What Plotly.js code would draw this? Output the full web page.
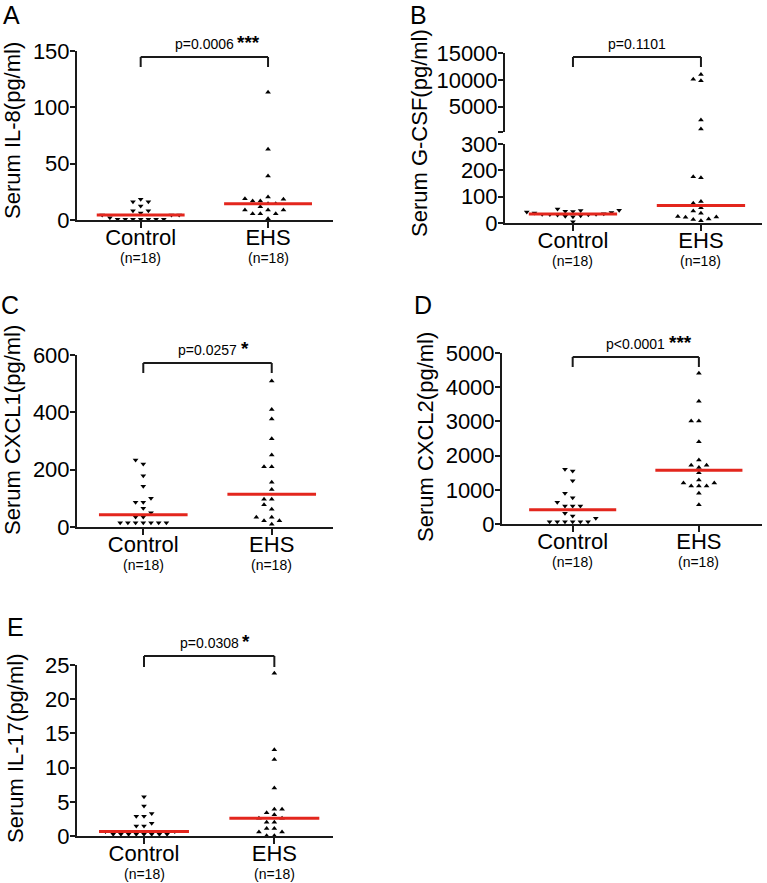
<!DOCTYPE html>
<html>
<head>
<meta charset="utf-8">
<script src="https://cdn.plot.ly/plotly-3.0.1.min.js"></script>
<style>
  html, body { margin: 0; padding: 0; background: #ffffff; }
  #chart { width: 767px; height: 883px; }
</style>
</head>
<body>
<div id="chart"></div>
<script>
// ---- data (pg/ml) ----
const groups = ['Control', 'EHS'];
const groupN = ['(n=18)', '(n=18)'];

const il8Control = [18.4, 16.3, 16.3, 12.4, 8.3, 8.3, 6.2, 4.5, 4.5, 4.5, 0.6, 0.6, 0.6, 0.6, 0.6, 0.6, 0.6, 2.0];
const il8EHS     = [113.3, 62.7, 39, 20.4, 18.4, 18.9, 16.9, 16.9, 14.5, 14.5, 11.8, 8.9, 8.9, 8.9, 5.6, 5.6, 5.6, 1.2];

const gcsfControl = [5, 24, 26, 28, 30, 31, 32, 33, 33, 35, 38, 40, 42, 44, 45, 47, 48, 53];
const gcsfEHS     = [11000, 9850, 10100, 2530, 860, 176, 172, 82, 75, 58, 46, 37, 25, 23, 22, 15, 13, 9];

const cxcl1Control = [234, 220, 179, 142, 100, 86, 86, 65, 50, 35, 35, 15, 15, 15, 15, 15, 15, 15];
const cxcl1EHS     = [509, 410, 377, 308, 251, 210, 210, 156, 131, 97, 97, 78, 62, 34, 34, 22, 22, 10];

const cxcl2Control = [1600, 1550, 1267, 897, 770, 634, 526, 526, 526, 312, 234, 166, 68, 68, 68, 68, 68, 68];
const cxcl2EHS     = [4406, 3587, 3012, 3012, 2407, 1871, 1716, 1716, 1650, 1500, 1287, 1199, 1199, 1111, 1111, 1111, 897, 565];

const il17Control = [5.75, 4.4, 3.3, 2.9, 2.9, 1.85, 1.46, 1.46, 0.65, 0.65, 0.25, 0.25, 0.25, 0.25, 0.25, 0.25, 0.25, 0.25];
const il17EHS     = [23.8, 12.6, 11.2, 7.0, 3.9, 3.9, 3.4, 3.1, 2.6, 2.6, 2.0, 2.0, 1.1, 1.1, 0.6, 0.6, 0.05, 0.05];

// tick labels
const il8Ticks    = [0, 50, 100, 150];
const gcsfLoTicks = [0, 100, 200, 300];
const gcsfHiTicks = [300, 5000, 10000, 15000];
const gcsfHiText  = ['', '5000', '10000', '15000'];
const cxcl1Ticks  = [0, 200, 400, 600];
const cxcl2Ticks  = [0, 1000, 2000, 3000, 4000, 5000];
const il17Ticks   = [0, 5, 10, 15, 20, 25];

// p values
const pTexts = ['p=0.0006', 'p=0.1101', 'p=0.0257', 'p<0.0001', 'p=0.0308'];
const pStars = ['***', '', '*', '***', '*'];

// ---- layout geometry (pixels in a 767 x 883 page) ----
const W = 767, H = 883;
const FONT = 'Arial, "Liberation Sans", Helvetica, sans-serif';
const INK = '#1a1a1a';
const RED = '#e3261d';

const panels = [
  { letter: 'A', title: 'Serum IL-8(pg/ml)', data: [il8Control, il8EHS],
    left: 77, right: 333, xrange: [0.5, 2.51],
    segs: [{ top: 51, bottom: 220, range: [0, 150], tickvals: il8Ticks }],
    bracket: [57, 67], letterAt: [11, 15], titleAt: [12, 131] },
  { letter: 'B', title: 'Serum G-CSF(pg/ml)', data: [gcsfControl, gcsfEHS],
    left: 505, right: 762, xrange: [0.469, 2.477],
    segs: [{ top: 144, bottom: 223, range: [0, 300], tickvals: gcsfLoTicks },
           { top: 53, bottom: 132, range: [300, 15000], tickvals: gcsfHiTicks, ticktext: gcsfHiText }],
    bracket: [57, 67], letterAt: [418, 15], titleAt: [419, 133] },
  { letter: 'C', title: 'Serum CXCL1(pg/ml)', data: [cxcl1Control, cxcl1EHS],
    left: 77, right: 333, xrange: [0.484, 2.477],
    segs: [{ top: 355, bottom: 527, range: [0, 600], tickvals: cxcl1Ticks }],
    bracket: [363, 373], letterAt: [10, 305], titleAt: [12, 430] },
  { letter: 'D', title: 'Serum CXCL2(pg/ml)', data: [cxcl2Control, cxcl2EHS],
    left: 502, right: 762, xrange: [0.44, 2.5],
    segs: [{ top: 353, bottom: 524, range: [0, 5000], tickvals: cxcl2Ticks }],
    bracket: [357, 367], letterAt: [423, 305], titleAt: [425, 437] },
  { letter: 'E', title: 'Serum IL-17(pg/ml)', data: [il17Control, il17EHS],
    left: 77, right: 333, xrange: [0.486, 2.45],
    segs: [{ top: 665, bottom: 836, range: [0, 25], tickvals: il17Ticks }],
    bracket: [656, 667], letterAt: [15, 627], titleAt: [15, 748] }
];

const px2x = p => p / W;
const px2y = p => 1 - p / H;

function median(arr) {
  const s = arr.slice().sort((a, b) => a - b);
  const m = s.length / 2;
  return s.length % 2 ? s[Math.floor(m)] : (s[m - 1] + s[m]) / 2;
}

// Beeswarm: stack points sideways in fixed slots when they would overlap vertically.
function swarm(values, toPx, minDy) {
  const order = values.map((v, i) => i).sort((a, b) => values[a] - values[b]);
  const placed = [];
  const slots = new Array(values.length);
  order.forEach(i => {
    const py = toPx(values[i]);
    for (let k = 0; k < 60; k++) {
      const slot = (k % 2 === 1) ? -(k + 1) / 2 : k / 2;
      const hit = placed.some(p => p.slot === slot && Math.abs(p.py - py) < minDy);
      if (!hit) { placed.push({ slot, py }); slots[i] = slot; break; }
    }
  });
  return slots;
}

const traces = [];
const lineTraces = [];
const layout = {
  width: W, height: H,
  margin: { l: 0, r: 0, t: 0, b: 0 },
  paper_bgcolor: '#ffffff', plot_bgcolor: 'rgba(0,0,0,0)',
  showlegend: false,
  font: { family: FONT, color: '#000000' },
  annotations: [], shapes: []
};

let yCount = 0;
panels.forEach((pn, pi) => {
  const xn = pi + 1;
  const xId = xn === 1 ? 'x' : 'x' + xn;
  const xKey = xn === 1 ? 'xaxis' : 'xaxis' + xn;
  const unitPx = (pn.right - pn.left) / (pn.xrange[1] - pn.xrange[0]);
  const stepX = 7.7 / unitPx;

  const yIds = pn.segs.map(() => {
    yCount += 1;
    return yCount === 1 ? 'y' : 'y' + yCount;
  });

  layout[xKey] = {
    domain: [px2x(pn.left), px2x(pn.right)],
    range: pn.xrange, anchor: yIds[0],
    showline: true, linewidth: 2, linecolor: INK,
    ticks: 'outside', ticklen: 6, tickwidth: 2, tickcolor: INK,
    ticklabelstandoff: -9,
    tickvals: [1, 2], ticktext: groups,
    tickfont: { family: FONT, size: 22, color: '#000' },
    showgrid: false, zeroline: false, fixedrange: true
  };

  pn.segs.forEach((sg, si) => {
    const yKey = 'yaxis' + (yIds[si] === 'y' ? '' : yIds[si].slice(1));
    layout[yKey] = {
      domain: [px2y(sg.bottom), px2y(sg.top)],
      range: sg.range, anchor: xId,
      showline: true, linewidth: 2, linecolor: INK,
      ticks: 'outside', ticklen: 5, tickwidth: 2, tickcolor: INK,
      ticklabelstandoff: -4,
      tickvals: sg.tickvals, ticktext: sg.ticktext || sg.tickvals.map(String),
      tickfont: { family: FONT, size: 22, color: '#000' },
      showgrid: false, zeroline: false, fixedrange: true
    };
  });

  const segOf = v => {
    for (let s = 0; s < pn.segs.length; s++) if (v <= pn.segs[s].range[1]) return s;
    return pn.segs.length - 1;
  };
  const toPx = v => {
    const sg = pn.segs[segOf(v)];
    return sg.bottom - (v - sg.range[0]) / (sg.range[1] - sg.range[0]) * (sg.bottom - sg.top);
  };

  pn.data.forEach((vals, gi) => {
    const center = gi + 1;
    const slots = swarm(vals, toPx, 5);
    pn.segs.forEach((sg, si) => {
      const xs = [], ys = [];
      vals.forEach((v, i) => {
        if (segOf(v) === si) { xs.push(center + slots[i] * stepX); ys.push(v); }
      });
      if (!xs.length) return;
      traces.push({
        type: 'scatter', mode: 'markers', x: xs, y: ys,
        xaxis: xId, yaxis: yIds[si], cliponaxis: false, hoverinfo: 'skip',
        marker: { symbol: gi === 0 ? 'triangle-down' : 'triangle-up', size: 5, color: '#000' }
      });
    });
    const med = median(vals);
    lineTraces.push({
      type: 'scatter', mode: 'lines',
      x: [center - 0.345, center + 0.345], y: [med, med],
      xaxis: xId, yaxis: yIds[segOf(med)], cliponaxis: false, hoverinfo: 'skip',
      line: { color: RED, width: 3 }
    });
    layout.annotations.push({
      xref: xId, yref: 'paper', x: center, y: px2y(pn.segs[0].bottom + 38),
      text: groupN[gi], showarrow: false, xanchor: 'center', yanchor: 'middle',
      borderpad: 0, font: { family: FONT, size: 14, color: '#000' }
    });
  });

  // significance bracket between the two groups
  const bTop = px2y(pn.bracket[0]), bLeg = px2y(pn.bracket[1]);
  layout.shapes.push({
    type: 'line', xref: xId, yref: 'paper', x0: 1, x1: 2, y0: bTop, y1: bTop,
    line: { color: INK, width: 2 }
  });
  [1, 2].forEach(c => layout.shapes.push({
    type: 'line', xref: xId, yref: 'paper', x0: c, x1: c, y0: bTop, y1: bLeg,
    line: { color: INK, width: 2 }
  }));
  layout.annotations.push({
    xref: xId, yref: 'paper', x: 1.5, y: bTop, yshift: 13,
    text: pTexts[pi], showarrow: false, xanchor: 'center', yanchor: 'middle',
    borderpad: 0, font: { family: FONT, size: 14, color: '#000' }
  });
  if (pStars[pi]) {
    layout.annotations.push({
      xref: xId, yref: 'paper', x: 1.5, y: bTop, yshift: 15, xshift: 32,
      text: '<b>' + pStars[pi] + '</b>', showarrow: false, xanchor: 'left', yanchor: 'middle',
      borderpad: 0, font: { family: FONT, size: 19, color: '#000' }
    });
  }

  // panel letter and axis title
  layout.annotations.push({
    xref: 'paper', yref: 'paper', x: px2x(pn.letterAt[0]), y: px2y(pn.letterAt[1]),
    text: pn.letter, showarrow: false, xanchor: 'center', yanchor: 'middle',
    borderpad: 0, font: { family: FONT, size: 25, color: '#000' }
  });
  layout.annotations.push({
    xref: 'paper', yref: 'paper', x: px2x(pn.titleAt[0]), y: px2y(pn.titleAt[1]),
    text: pn.title, textangle: -90, showarrow: false, xanchor: 'center', yanchor: 'middle',
    borderpad: 0, font: { family: FONT, size: 22, color: '#000' }
  });
});

Plotly.newPlot('chart', traces.concat(lineTraces), layout, { staticPlot: true, displayModeBar: false });
</script>
</body>
</html>
